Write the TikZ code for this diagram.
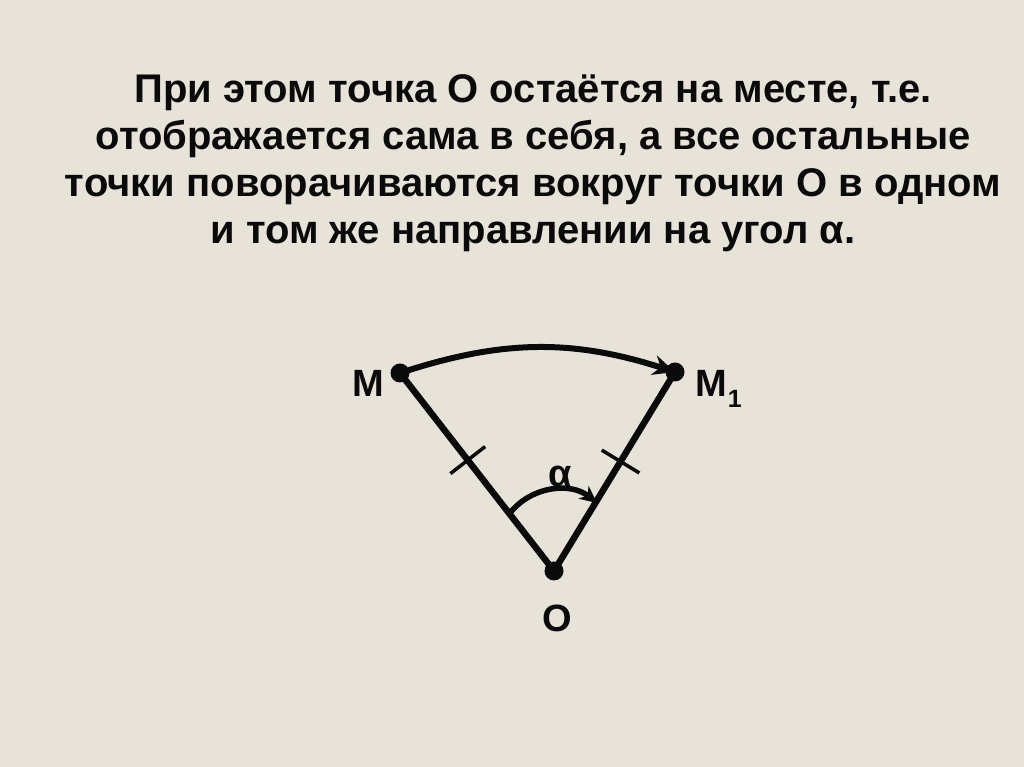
\documentclass[tikz,border=0pt]{standalone}
\usepackage{fontspec}
\setmainfont{Liberation Sans}
\usetikzlibrary{arrows.meta,calc}
\definecolor{bg}{HTML}{E8E3D9}
\definecolor{ink}{HTML}{0A0A0A}
\tikzset{
  title/.style={anchor=base,inner sep=0pt,text=ink,font=\fontsize{40}{40}\selectfont\bfseries},
  lbl/.style={anchor=base,inner sep=0pt,text=ink,font=\fontsize{38}{38}\selectfont\bfseries},
  dot/.style={circle,fill=ink,inner sep=0pt,minimum size=19pt},
  side/.style={draw=ink,line width=6.5pt},
  tickmark/.style={draw=ink,line width=3.5pt},
  turn/.style={draw=ink,line width=6pt,-{Stealth[length=22pt,width=20pt,inset=7pt]}},
  small/.style={draw=ink,line width=5.5pt,-{Stealth[length=17pt,width=16pt,inset=5pt]}}
}
\begin{document}
\begin{tikzpicture}[x=1pt,y=1pt]
\fill[bg] (0,0) rectangle (1024,767);
\useasboundingbox (0,0) rectangle (1024,767);
\node[title] (l1) at (533,664) {При этом точка О остаётся на месте, т.е.};
\node[title] (l2) at (533,617) {отображается сама в себя, а все остальные};
\node[title] (l3) at (533,570) {точки поворачиваются вокруг точки О в одном};
\node[title] (l4) at (533,523) {и том же направлении на угол α.};
\node[dot] (M) at (400,394) {};
\node[dot] (M1) at (675,395) {};
\node[dot] (O) at (554,196) {};
\draw[side] (M.center) -- (O.center) -- (M1.center);
\draw[turn] (M.center) to[bend left=18] (M1.center);
\draw[tickmark] ($(M)!0.44!(O)!22pt!90:(O)$) -- ($(M)!0.44!(O)!22pt!-90:(O)$);
\draw[tickmark] ($(M1)!0.45!(O)!22pt!90:(O)$) -- ($(M1)!0.45!(O)!22pt!-90:(O)$);
\coordinate (a1) at (510,254);
\coordinate (a2) at (597,264);
\draw[small] (a1) to[bend left=45] (a2);
\node[lbl] (tM) at (368,370) {M};
\node[lbl,anchor=base west] (tM1) at (695,370) {M\kern1pt\raisebox{-11pt}{\fontsize{25}{25}\selectfont 1}};
\node[lbl] (tO) at (557,135) {O};
\node[lbl] (ta) at (560,280) {α};
\end{tikzpicture}
\end{document}
